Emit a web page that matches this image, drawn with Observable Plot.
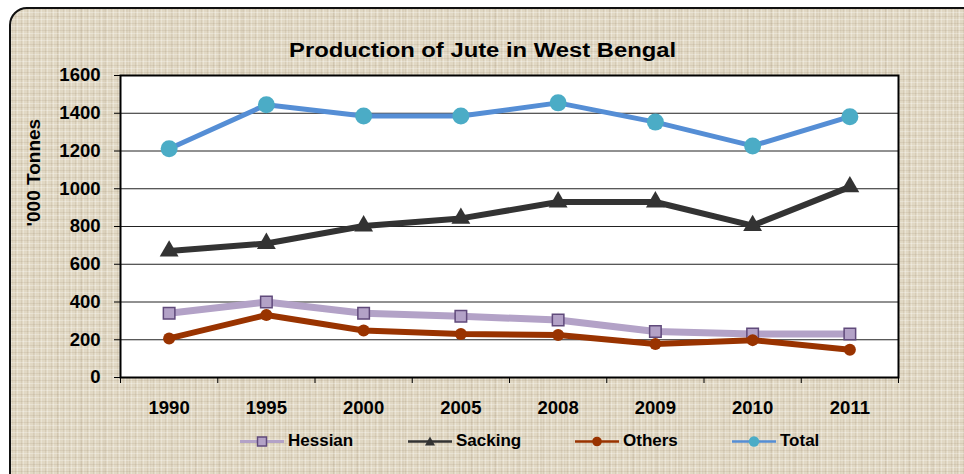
<!DOCTYPE html>
<html>
<head>
<meta charset="utf-8">
<script src="https://cdn.jsdelivr.net/npm/d3@7"></script>
<script src="https://cdn.jsdelivr.net/npm/@observablehq/plot@0.6"></script>
<style>
  html, body { margin: 0; padding: 0; background: #fff; overflow: hidden; }
  #wrap { position: relative; width: 964px; height: 474px; overflow: hidden; background: #fff;
          font-family: "Liberation Sans", Arial, sans-serif; }
  #panel { position: absolute; left: 9px; top: 7px; width: 1000px; height: 540px;
           border: 2px solid #111; border-radius: 18px; box-sizing: border-box;
           background-color: #e1d8c4;
           background-image:
             repeating-linear-gradient(0deg, rgba(255,255,255,0.28) 0 1px, transparent 1px 3px, rgba(140,120,90,0.13) 3px 4px, transparent 4px 7px),
             repeating-linear-gradient(90deg, rgba(255,255,255,0.28) 0 1px, transparent 1px 4px, rgba(140,120,90,0.13) 4px 5px, transparent 5px 6px),
             repeating-linear-gradient(90deg, rgba(120,100,70,0.06) 0 2px, transparent 2px 23px); }
  #chart { position: absolute; left: 0; top: 0; }
  #title { position: absolute; left: 0; top: 40px; width: 966px; text-align: center;
           font-weight: bold; font-size: 20px; line-height: 20px; color: #000; }
  #title span { display: inline-block; transform: scaleX(1.19); }
  .lg { position: absolute; top: 432px; height: 18px; display: flex; align-items: center;
        font-weight: bold; font-size: 17px; color: #000; white-space: nowrap; }
  .lg svg { margin-right: 4px; }
</style>
</head>
<body>
<div id="wrap">
  <div id="panel"></div>
  <div id="chart"></div>
  <div id="title"><span>Production of Jute in West Bengal</span></div>
  <div id="legend"></div>
</div>
<script>
const years   = ["1990", "1995", "2000", "2005", "2008", "2009", "2010", "2011"];
const hessian = [340, 400, 340, 324, 305, 244, 230, 230];
const sacking = [670, 710, 803, 843, 930, 930, 805, 1010];
const others  = [207, 331, 249, 230, 225, 177, 198, 147];
const total   = [1212, 1445, 1385, 1385, 1455, 1353, 1227, 1382];
const yTicks  = [0, 200, 400, 600, 800, 1000, 1200, 1400, 1600];
const seriesNames = ["Hessian", "Sacking", "Others", "Total"];
const yLabel = "'000 Tonnes";

const idx = years.map((_, i) => i);
const bounds = d3.range(years.length + 1).map(i => i - 0.5);
const rows = (vals) => vals.map((v, i) => ({i, v}));

const plot = Plot.plot({
  width: 964,
  height: 474,
  marginLeft: 120,
  marginRight: 66,
  marginTop: 75,
  marginBottom: 97,
  style: {background: "transparent", fontFamily: "'Liberation Sans', Arial, sans-serif",
          fontSize: "18.5px", fontWeight: "bold", color: "#000", overflow: "visible"},
  x: {type: "linear", domain: [-0.5, years.length - 0.5]},
  y: {domain: [0, 1600]},
  marks: [
    Plot.frame({fill: "white", stroke: null}),
    Plot.gridY(yTicks.filter(d => d > 0), {stroke: "#222", strokeOpacity: 1, strokeWidth: 1}),
    Plot.frame({stroke: "#000", strokeWidth: 2}),
    Plot.axisY({ticks: yTicks, tickSize: 6, tickPadding: 14, stroke: "#000", label: null,
                tickFormat: d => String(d)}),
    Plot.axisX({ticks: bounds, tickSize: 6, tickFormat: () => "", label: null, stroke: "#000"}),
    Plot.axisX({ticks: idx, tickSize: 0, tickPadding: 23, tickFormat: i => years[i], label: null}),
    Plot.text([yLabel], {frameAnchor: "left", dx: -87, rotate: -90, text: d => d,
                         fontSize: 19, fontWeight: "bold", fill: "#000"}),
    // Total
    Plot.line(rows(total), {x: "i", y: "v", stroke: "#558ED5", strokeWidth: 5}),
    Plot.dot(rows(total), {x: "i", y: "v", r: 8.5, fill: "#4BACC6", stroke: null}),
    // Sacking
    Plot.line(rows(sacking), {x: "i", y: "v", stroke: "#333333", strokeWidth: 6}),
    Plot.dot(rows(sacking), {x: "i", y: "v", symbol: "triangle", r: 7, fill: "#333333", stroke: null}),
    // Hessian
    Plot.line(rows(hessian), {x: "i", y: "v", stroke: "#B3A2C7", strokeWidth: 7}),
    Plot.dot(rows(hessian), {x: "i", y: "v", symbol: "square", r: 6.5, fill: "#B3A2C7", stroke: "#604A7B", strokeWidth: 1.5}),
    // Others
    Plot.line(rows(others), {x: "i", y: "v", stroke: "#993300", strokeWidth: 6}),
    Plot.dot(rows(others), {x: "i", y: "v", r: 6, fill: "#993300", stroke: null})
  ]
});
document.getElementById("chart").appendChild(plot);

// Legend
const legendDefs = [
  {name: seriesNames[0], left: 240, line: "#B3A2C7", lw: 3,
   marker: '<rect x="17.5" y="4" width="9" height="9" fill="#B3A2C7" stroke="#604A7B" stroke-width="1.5"/>'},
  {name: seriesNames[1], left: 408, line: "#333333", lw: 2.5,
   marker: '<path d="M22,3.5 L27,12.5 L17,12.5 Z" fill="#333333"/>'},
  {name: seriesNames[2], left: 575, line: "#993300", lw: 2.5,
   marker: '<circle cx="22" cy="8.5" r="4.8" fill="#993300"/>'},
  {name: seriesNames[3], left: 732, line: "#558ED5", lw: 2.5,
   marker: '<circle cx="22" cy="8.5" r="5.2" fill="#4BACC6"/>'}
];
const legend = document.getElementById("legend");
for (const d of legendDefs) {
  const el = document.createElement("div");
  el.className = "lg";
  el.style.left = d.left + "px";
  el.innerHTML = `<svg width="44" height="17" viewBox="0 0 44 17"><line x1="0" y1="8.5" x2="44" y2="8.5" stroke="${d.line}" stroke-width="${d.lw}"/>${d.marker}</svg><span>${d.name}</span>`;
  legend.appendChild(el);
}
</script>
</body>
</html>
